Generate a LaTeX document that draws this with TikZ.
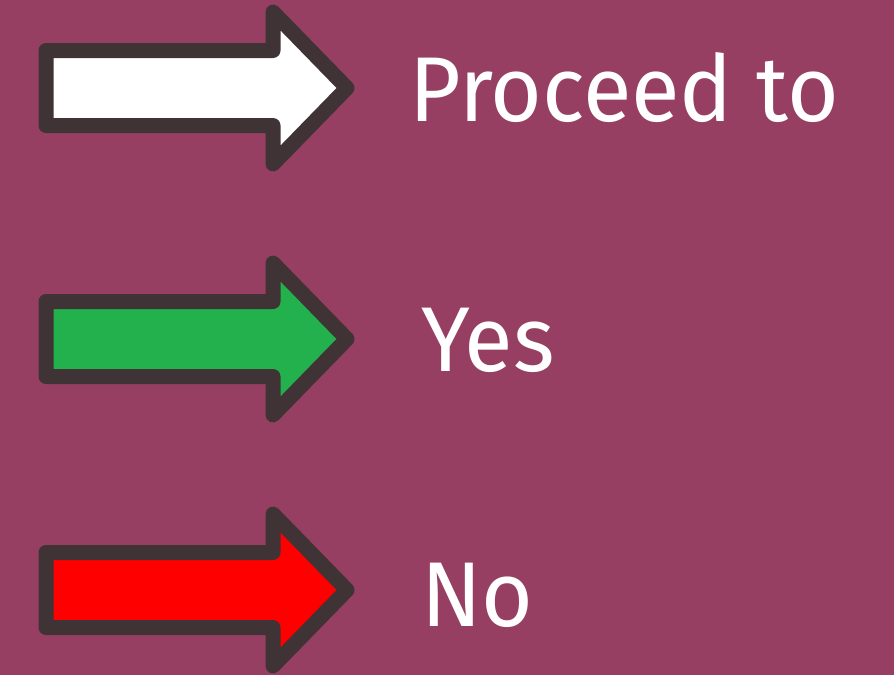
\documentclass[tikz,border=0pt]{standalone}
\usepackage{fontspec}
\setmainfont{Fira Sans}
\definecolor{bg}{HTML}{963F63}
\definecolor{outl}{HTML}{3F3336}
\definecolor{gr}{HTML}{22B14C}
\definecolor{rd}{HTML}{FF0000}
\tikzset{
  arrowshape/.style={draw=outl, line width=15pt, line join=round},
  lbl/.style={text=white, anchor=base west, inner sep=0pt, xscale=0.965, transform shape, font=\fontsize{92}{100}\selectfont}
}
\begin{document}
\begin{tikzpicture}[x=1pt,y=-1pt]
\fill[bg] (0,0) rectangle (894,675);
\useasboundingbox (0,0) rectangle (894,675);
\foreach \c/\col in {88/white,339/gr,590/rd}{
  \draw[arrowshape, fill=\col] (46,\c-37.5) -- (273,\c-37.5) -- (273,\c-76) -- (347,\c) -- (273,\c+76) -- (273,\c+37.5) -- (46,\c+37.5) -- cycle;
}
\node[lbl] (t1) at (409,121) {Proceed to};
\node[lbl] (t2) at (421,371) {Yes};
\node[lbl] (t3) at (421,626) {No};
\end{tikzpicture}
\end{document}
